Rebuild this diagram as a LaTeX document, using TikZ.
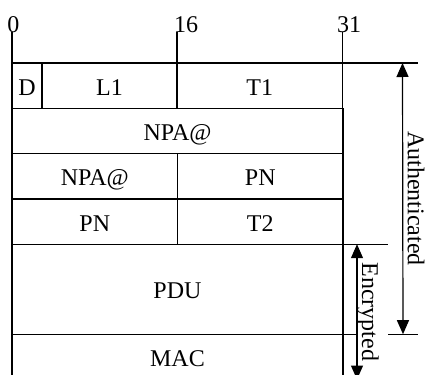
\documentclass[tikz,border=0pt]{standalone}
\usepackage{fontspec}
\setmainfont{Liberation Serif}
\usetikzlibrary{arrows.meta,calc,positioning}
\tikzset{
  campo/.style={
    draw,
    line width=1.2pt,
    inner sep=0pt,
    outer sep=0pt,
    minimum height=45.3pt,
    text height=19pt,
    text depth=0pt,
    font=\fontsize{24}{24}\selectfont
  },
  bit/.style={
    inner sep=0pt,
    anchor=base,
    font=\fontsize{24}{24}\selectfont
  },
  rotulo/.style={
    rotate=-90,
    inner sep=0pt,
    anchor=base,
    font=\fontsize{24}{24}\selectfont
  },
  linea/.style={line width=1.2pt},
  flecha/.style={
    {Triangle[length=14pt,width=12pt]}-{Triangle[length=14pt,width=12pt]},
    line width=1.2pt
  }
}

\begin{document}
\begin{tikzpicture}[x=1pt,y=-1pt,node distance=0pt]
\clip (0,0) rectangle (426,375);
\useasboundingbox (0,0) rectangle (426,375);
% campos de la trama
\node[campo,minimum width=30pt,anchor=north west] (d) at (12,63) {D};
\node[campo,minimum width=135pt,right=of d] (l1) {L1};
\node[campo,minimum width=165.5pt,right=of l1] (t1) {T1};
\node[campo,minimum width=331pt,below=of d.south west,anchor=north west] (npa) {NPA@};
\node[campo,minimum width=165.5pt,below=of npa.south west,anchor=north west] (npab) {NPA@};
\node[campo,minimum width=165.5pt,right=of npab] (pna) {PN};
\node[campo,minimum width=165.5pt,below=of npab.south west,anchor=north west] (pnb) {PN};
\node[campo,minimum width=165.5pt,right=of pnb] (t2) {T2};
\node[campo,minimum width=331pt,minimum height=90pt,below=of pnb.south west,anchor=north west] (pdu) {PDU};
\node[campo,minimum width=331pt,below=of pdu.south west,anchor=north west] (mac) {MAC};
% numeros de bit
\node[bit] (b0) at (13.5,32) {0};
\node[bit] (b16) at (186,32) {16};
\node[bit] (b31) at (349,32) {31};
\draw[linea] (d.north west) -- (d.north west |- b0.south);
\draw[linea] (t1.north west) -- (t1.north west |- b16.south);
\draw[linea] (t1.north east) -- (t1.north east |- b31.south);
% zonas
\coordinate (autn) at ($(t1.north east)+(60,0)$);
\coordinate (auts) at ($(pdu.south east)+(60,0)$);
\coordinate (encn) at ($(pdu.north east)+(14,0)$);
\coordinate (encs) at ($(mac.south east)+(14,0)$);
\draw[linea] (t1.north east) -- ($(autn)+(15,0)$);
\draw[linea] (pdu.north east) -- ($(pdu.north east)+(45,0)$);
\draw[linea] (mac.north east) -- (encn |- mac.north east);
\draw[linea] ($(auts)+(-15,0)$) -- ($(auts)+(15,0)$);
\draw[flecha] (autn) -- (auts);
\draw[flecha] (encn) -- (encs);
\node[rotulo] (aut) at ($(autn)!0.5!(auts)+(5,0)$) {Authenticated};
\node[rotulo] (enc) at ($(encn)!0.5!(encs)+(5,0)$) {Encrypted};
\end{tikzpicture}
\end{document}
